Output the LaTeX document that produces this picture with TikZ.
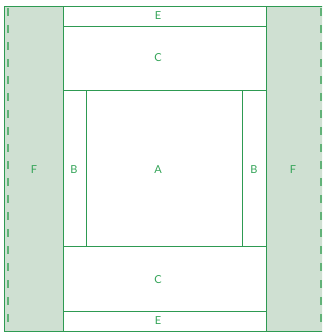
\documentclass[tikz,border=0pt]{standalone}
\usepackage{fontspec}
\setmainfont{Lato}
\usepackage{xcolor}
\definecolor{seamgreen}{RGB}{46,154,82}
\definecolor{stripfill}{RGB}{207,224,210}
\definecolor{dashgreen}{RGB}{98,178,120}
\definecolor{lblgreen}{RGB}{52,164,88}
\usepackage{tikz}

\begin{document}
\begin{tikzpicture}[x=1pt,y=-1pt,
  seam/.style={draw=seamgreen,line width=0.85pt},
  lbl/.style={text=lblgreen,font=\fontsize{11}{13}\selectfont}]
\useasboundingbox (0,0) rectangle (322,335);
\clip (0,0) rectangle (322,335);
% side strips
\filldraw[fill=stripfill,seam] (4,6) rectangle (63,331);
\filldraw[fill=stripfill,seam] (266,6) rectangle (325,331);
\draw[dashgreen,line width=2pt,dash pattern=on 8pt off 9pt] (8,8) -- (8,331);
\draw[dashgreen,line width=2pt,dash pattern=on 8pt off 9pt] (321,8) -- (321,331);
% centre block
\draw[seam] (63,6) rectangle (266,331);
\foreach \y in {26,90,246,311}
  \draw[seam] (63,\y) -- (266,\y);
\draw[seam] (86,90) -- (86,246);
\draw[seam] (242,90) -- (242,246);
% labels
\node[lbl] (e1) at (158,16) {E};
\node[lbl] (c1) at (158,58) {C};
\node[lbl] (fl) at (34,170) {F};
\node[lbl] (bl) at (74,170) {B};
\node[lbl] (a) at (158,170) {A};
\node[lbl] (br) at (254,170) {B};
\node[lbl] (fr) at (293,170) {F};
\node[lbl] (c2) at (158,280) {C};
\node[lbl] (e2) at (158,321) {E};
\end{tikzpicture}
\end{document}
